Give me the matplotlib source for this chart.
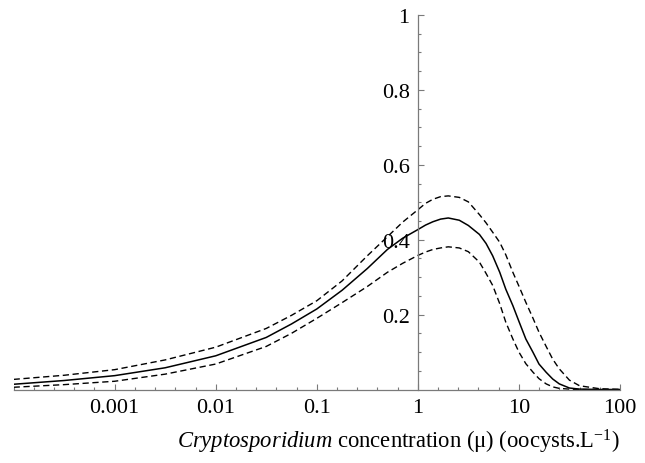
import matplotlib
matplotlib.use("Agg")
import matplotlib.pyplot as plt
from matplotlib.ticker import FixedLocator, NullFormatter, FixedFormatter

# Cryptosporidium concentration (oocysts per litre)
mu = [0.0001, 0.000316, 0.001, 0.00316, 0.01, 0.0316, 0.0562, 0.1, 0.178, 0.316,
      0.5, 0.708, 1.0, 1.19, 1.41, 1.68, 2.0, 2.57, 3.16, 4.07, 4.73, 5.5, 6.46,
      7.41, 8.71, 10.0, 11.7, 13.8, 15.8, 18.6, 21.6, 25.1, 31.6, 39.8, 63.1, 100.0]

# central estimate
p_mid = [0.014, 0.024, 0.037, 0.058, 0.090, 0.139, 0.175, 0.215, 0.265, 0.323,
         0.374, 0.404, 0.427, 0.439, 0.448, 0.455, 0.458, 0.452, 0.438, 0.414,
         0.390, 0.357, 0.313, 0.268, 0.224, 0.182, 0.135, 0.099, 0.068, 0.046,
         0.028, 0.015, 0.004, 0.001, 0.0, 0.0]

# upper bound
p_hi = [0.027, 0.038, 0.053, 0.079, 0.113, 0.163, 0.198, 0.237, 0.290, 0.357,
        0.408, 0.447, 0.480, 0.497, 0.508, 0.515, 0.517, 0.513, 0.501, 0.467,
        0.445, 0.420, 0.393, 0.360, 0.313, 0.276, 0.233, 0.190, 0.153, 0.115,
        0.081, 0.055, 0.025, 0.010, 0.002, 0.0]

# lower bound
p_lo = [0.006, 0.013, 0.022, 0.041, 0.068, 0.115, 0.150, 0.190, 0.232, 0.275,
        0.313, 0.337, 0.358, 0.367, 0.374, 0.378, 0.381, 0.378, 0.368, 0.340,
        0.310, 0.278, 0.229, 0.180, 0.135, 0.100, 0.069, 0.046, 0.029, 0.015,
        0.007, 0.003, 0.001, 0.0, 0.0, 0.0]

x_ticks = [0.001, 0.01, 0.1, 1, 10, 100]
x_tick_labels = ["0.001", "0.01", "0.1", "1", "10", "100"]
y_ticks = [0.2, 0.4, 0.6, 0.8, 1.0]
y_tick_labels = ["0.2", "0.4", "0.6", "0.8", "1"]

plt.rcParams["font.family"] = ["Liberation Serif", "DejaVu Serif"]
plt.rcParams["mathtext.fontset"] = "custom"
plt.rcParams["mathtext.rm"] = "Liberation Serif"
plt.rcParams["mathtext.it"] = "Liberation Serif:italic"

fig = plt.figure(figsize=(6.45, 4.64), dpi=100)
ax = fig.add_axes([0.0211, 0.1584, 0.9401, 0.8071])

dash = (0, (4.5, 2.6))
ax.plot(mu, p_hi, color="black", lw=1.0, linestyle=dash)
ax.plot(mu, p_lo, color="black", lw=1.0, linestyle=dash)
ax.plot(mu, p_mid, color="black", lw=1.1)

ax.set_xscale("log")
ax.set_xlim(1e-4, 100)
ax.set_ylim(0, 1)

axis_col = "#7a7a7a"
for side in ("top", "right"):
    ax.spines[side].set_visible(False)
ax.spines["left"].set_position(("data", 1))
ax.spines["bottom"].set_position(("data", 0))
for side in ("left", "bottom"):
    ax.spines[side].set_color(axis_col)
    ax.spines[side].set_linewidth(0.9)
ax.spines["left"].set_bounds(0, 1)

ax.xaxis.set_major_locator(FixedLocator(x_ticks))
ax.xaxis.set_major_formatter(FixedFormatter(x_tick_labels))
minor_x = [10 ** (k + 0.2 * i) for k in range(-4, 2) for i in range(0, 5)]
minor_x = [v for v in minor_x if not any(abs(v - t) / t < 1e-6 for t in x_ticks)]
ax.xaxis.set_minor_locator(FixedLocator(minor_x))
ax.xaxis.set_minor_formatter(NullFormatter())

ax.yaxis.set_major_locator(FixedLocator(y_ticks))
ax.yaxis.set_major_formatter(FixedFormatter(y_tick_labels))
ax.yaxis.set_minor_locator(FixedLocator([0.05 * i for i in range(1, 20) if i % 4 != 0]))
ax.yaxis.set_minor_formatter(NullFormatter())

ax.tick_params(which="both", direction="in", color=axis_col, width=0.8,
               labelsize=16, labelcolor="black")
ax.tick_params(which="major", length=4.5, pad=6)
ax.tick_params(which="minor", length=2.5)

ax.set_xlabel(r"$\mathit{Cryptosporidium}$ concentration (μ) (oocysts.L$^{-1}$)",
              fontsize=16.3, ha="right", va="center")
ax.xaxis.set_label_coords(1.0, -0.137)

fig.savefig("out.png", dpi=100)
